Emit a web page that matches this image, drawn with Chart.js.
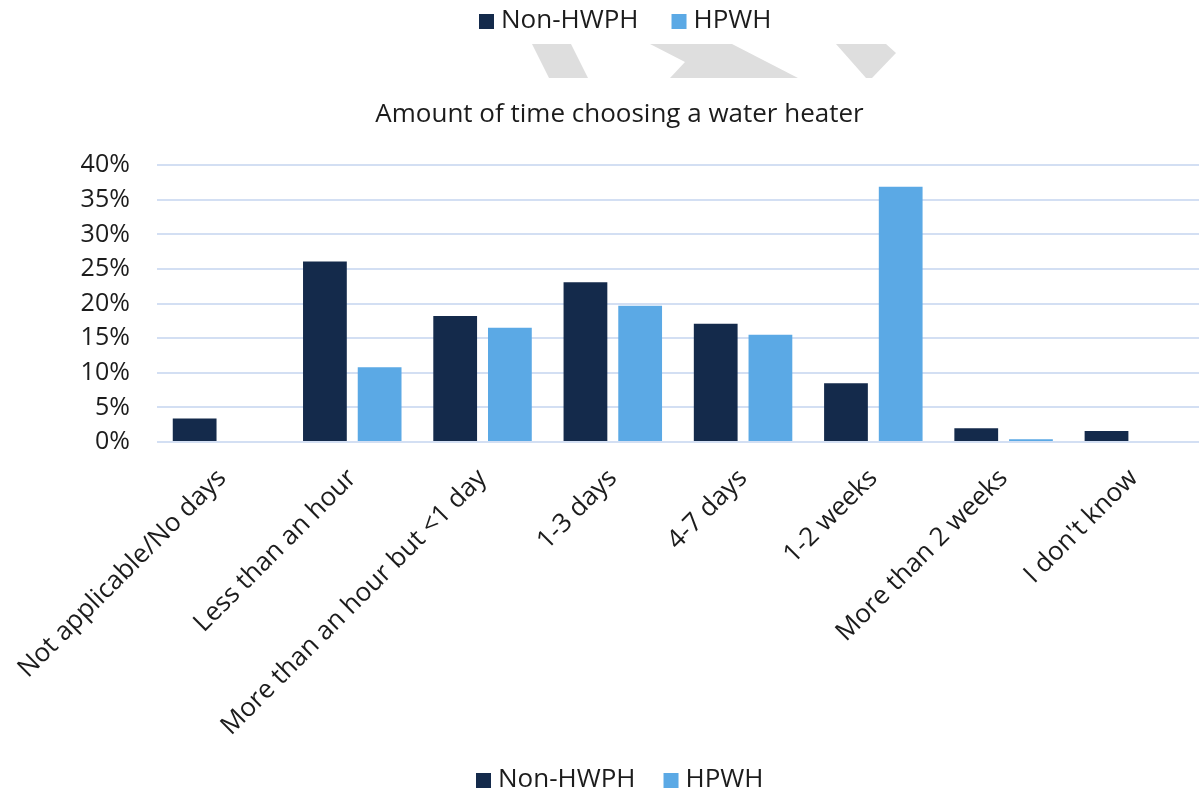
<!DOCTYPE html>
<html lang="en">
<head>
  <meta charset="UTF-8" />
  <title>Amount of time choosing a water heater</title>
  <script src="https://cdn.jsdelivr.net/npm/chart.js"></script>
  <style>
    html, body { margin: 0; padding: 0; background: #fff; }
    #box { width: 1201px; height: 793px; }
  </style>
</head>
<body>
  <div id="box"><canvas id="timeChart"></canvas></div>

  <script>
    const categories = [
      'Not applicable/No days',
      'Less than an hour',
      'More than an hour but <1 day',
      '1-3 days',
      '4-7 days',
      '1-2 weeks',
      'More than 2 weeks',
      "I don't know"
    ];
    const seriesNames = ['Non-HWPH', 'HPWH'];
    const nonHpwh = [3.4, 26.1, 18.2, 23.1, 17.1, 8.5, 2.0, 1.6];
    const hpwh = [0, 10.8, 16.5, 19.7, 15.5, 36.9, 0.4, 0];
    const yTicks = [0, 5, 10, 15, 20, 25, 30, 35, 40];

    const FONT = '"Open Sans"';
    const TEXT = '#1c1c1c';
    const DARK = '#142a4b';
    const LIGHT = '#5ba9e5';

    // grey strip of arrow pieces above the title
    const bannerShapes = {
      id: 'bannerShapes',
      beforeDraw(chart) {
        const ctx = chart.ctx;
        const pieces = [
          [[532, 44], [571, 44], [588, 78], [549, 78]],
          [[650, 44], [732, 44], [798, 78], [670, 78], [685, 62]],
          [[836, 44], [886, 44], [896, 53], [872, 78], [866, 78]]
        ];
        ctx.save();
        ctx.fillStyle = '#dedede';
        pieces.forEach(p => {
          ctx.beginPath();
          ctx.moveTo(p[0][0], p[0][1]);
          p.slice(1).forEach(pt => ctx.lineTo(pt[0], pt[1]));
          ctx.closePath();
          ctx.fill();
        });
        ctx.restore();
      }
    };

    // the same legend is repeated above and below the plot
    const twinLegend = {
      id: 'twinLegend',
      afterDraw(chart) {
        const ctx = chart.ctx;
        const rows = [
          { x: 479, y: 21, spacing: 33 },
          { x: 476, y: 780, spacing: 28 }
        ];
        ctx.save();
        ctx.font = '26px ' + FONT;
        ctx.textBaseline = 'middle';
        rows.forEach(r => {
          let x = r.x;
          chart.data.datasets.forEach(ds => {
            ctx.fillStyle = ds.backgroundColor;
            ctx.fillRect(x, r.y - 7, 15, 15);
            x += 22;
            ctx.fillStyle = TEXT;
            ctx.fillText(ds.label, x, r.y);
            x += ctx.measureText(ds.label).width + r.spacing;
          });
        });
        ctx.restore();
      }
    };

    new Chart(document.getElementById('timeChart'), {
      type: 'bar',
      data: {
        labels: categories,
        datasets: [
          { label: seriesNames[0], data: nonHpwh, backgroundColor: DARK },
          { label: seriesNames[1], data: hpwh, backgroundColor: LIGHT }
        ]
      },
      options: {
        responsive: true,
        maintainAspectRatio: false,
        animation: false,
        categoryPercentage: 0.84,
        barPercentage: 0.8,
        layout: { padding: { top: 99, left: 40, right: 2, bottom: 0 } },
        plugins: {
          legend: { display: false },
          tooltip: { enabled: false },
          title: {
            display: true,
            text: 'Amount of time choosing a water heater',
            color: TEXT,
            font: { family: FONT, size: 26, weight: 'normal' },
            padding: { top: 0, bottom: 35 }
          }
        },
        scales: {
          x: {
            grid: { display: false },
            border: { display: false },
            ticks: {
              color: TEXT,
              font: { family: FONT, size: 26 },
              minRotation: 45,
              maxRotation: 45,
              padding: 13,
              autoSkip: false
            },
            afterFit(scale) { scale.height = 351; }
          },
          y: {
            min: 0,
            max: 40,
            afterBuildTicks(scale) { scale.ticks = yTicks.map(v => ({ value: v })); },
            grid: { color: '#d3dff3', lineWidth: 2, drawTicks: false },
            border: { display: false },
            ticks: {
              color: TEXT,
              font: { family: FONT, size: 25 },
              padding: 27,
              callback: v => v + '%'
            },
            afterFit(scale) { scale.width = 115; }
          }
        }
      },
      plugins: [bannerShapes, twinLegend]
    });
  </script>
</body>
</html>
